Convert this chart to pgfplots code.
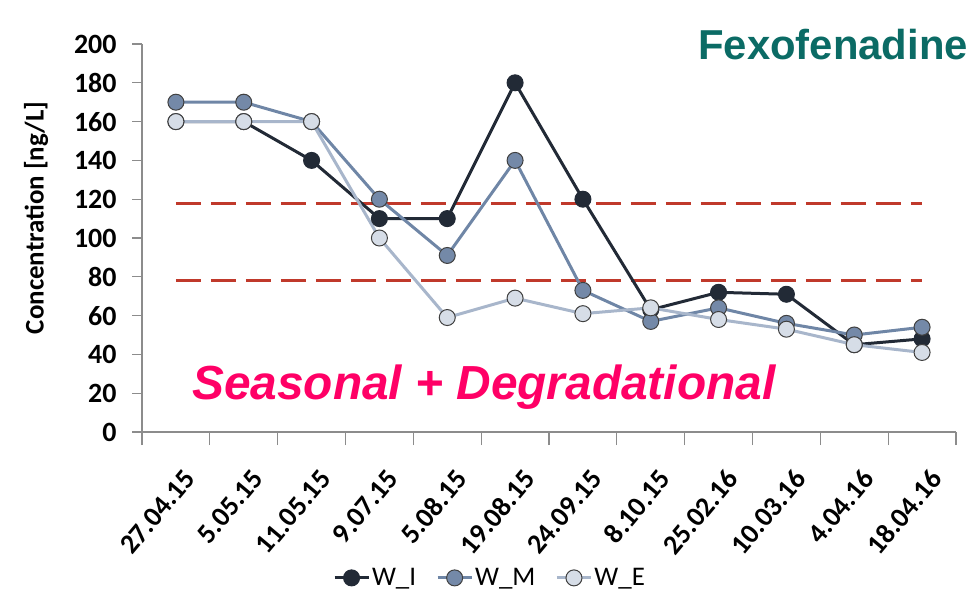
\documentclass[border=0pt]{standalone}
\usepackage{fontspec}
\setmainfont{Carlito}
\newfontfamily\arialfont{Liberation Sans}
\usepackage{pgfplots}
\pgfplotsset{compat=1.18}

\definecolor{wi}{HTML}{222A36}
\definecolor{wm}{HTML}{7489A8}
\definecolor{wmline}{HTML}{6F86A6}
\definecolor{we}{HTML}{D6DDE7}
\definecolor{weline}{HTML}{A8B6CB}
\definecolor{edge}{HTML}{404040}
\definecolor{axgrey}{HTML}{8C8C8C}
\definecolor{limred}{HTML}{C0392B}
\definecolor{titleteal}{HTML}{0B6B65}
\definecolor{hotpink}{HTML}{FF0066}

\begin{document}
\begin{tikzpicture}
\begin{axis}[
    scale only axis,
    width=814bp, height=388bp,
    xmin=0.5, xmax=12.5,
    ymin=0, ymax=200,
    clip=false,
    axis x line*=bottom, axis y line*=left,
    axis line style={axgrey, line width=1.3bp, -},
    tick align=outside,
    xtick={1,...,12},
    xticklabels={27.04.15,5.05.15,11.05.15,9.07.15,5.08.15,19.08.15,24.09.15,8.10.15,25.02.16,10.03.16,4.04.16,18.04.16},
    major x tick style={draw=none},
    minor xtick={0.5,1.5,...,12.5},
    minor tick length=13bp,
    major tick length=10bp,
    tick style={axgrey, line width=1.3bp},
    ytick={0,20,...,200},
    /pgf/number format/assume math mode=true,
    tick label style={font=\bfseries\fontsize{28}{28}\selectfont},
    yticklabel style={xshift=-12bp},
    xticklabel style={rotate=50, anchor=north east, xshift=-12bp, yshift=-18bp},
    ylabel={Concentration [ng/L]},
    ylabel style={at={(rel axis cs:-0.130,0.552)}, anchor=center,
        font=\bfseries\fontsize{27}{27}\selectfont},
    legend style={at={(rel axis cs:0.4275,-0.376)}, anchor=center, draw=none,
        font=\fontsize{27}{27}\selectfont,
        /tikz/every even column/.append style={column sep=18bp}},
    legend columns=-1,
    legend image code/.code={
        \draw[mark repeat=2, mark phase=2]
        plot coordinates {(0bp,0bp)(17bp,0bp)(34bp,0bp)};},
]
% limit lines
\addplot[forget plot, limred, line width=3bp, dash pattern=on 25bp off 10bp]
    coordinates {(1,118)(12,118)};
\addplot[forget plot, limred, line width=3bp, dash pattern=on 25bp off 10bp]
    coordinates {(1,78)(12,78)};

\addplot[wi, line width=3bp, mark=*, mark size=8bp,
    mark options={fill=wi, draw=wi, line width=1bp}]
    coordinates {
    (1,160)(2,160)(3,140)(4,110)(5,110)(6,180)(7,120)(8,63)(9,72)(10,71)(11,45)(12,48)
    };
\addlegendentry{W\_I}
\addplot[wmline, line width=3bp, mark=*, mark size=8bp,
    mark options={fill=wm, draw=edge, line width=1bp}]
    coordinates {
    (1,170)(2,170)(3,160)(4,120)(5,91)(6,140)(7,73)(8,57)(9,64)(10,56)(11,50)(12,54)
    };
\addlegendentry{W\_M}
\addplot[weline, line width=3bp, mark=*, mark size=8bp,
    mark options={fill=we, draw=edge, line width=1bp}]
    coordinates {
    (1,160)(2,160)(3,160)(4,100)(5,59)(6,69)(7,61)(8,64)(9,58)(10,53)(11,45)(12,41)
    };
\addlegendentry{W\_E}

\node[font=\arialfont\bfseries\fontsize{42}{42}\selectfont, text=titleteal, anchor=base]
    at (rel axis cs:0.849,0.959) {Fexofenadine};
\node[font=\arialfont\bfseries\itshape\fontsize{48}{48}\selectfont, text=hotpink, anchor=base]
    at (rel axis cs:0.420,0.0825) {Seasonal + Degradational};
\coordinate (o) at (rel axis cs:0,0);
\end{axis}
\pgfresetboundingbox
\path[use as bounding box] ([shift={(-142bp,-163bp)}]o) rectangle ([shift={(830bp,432bp)}]o);
\end{tikzpicture}
\end{document}
